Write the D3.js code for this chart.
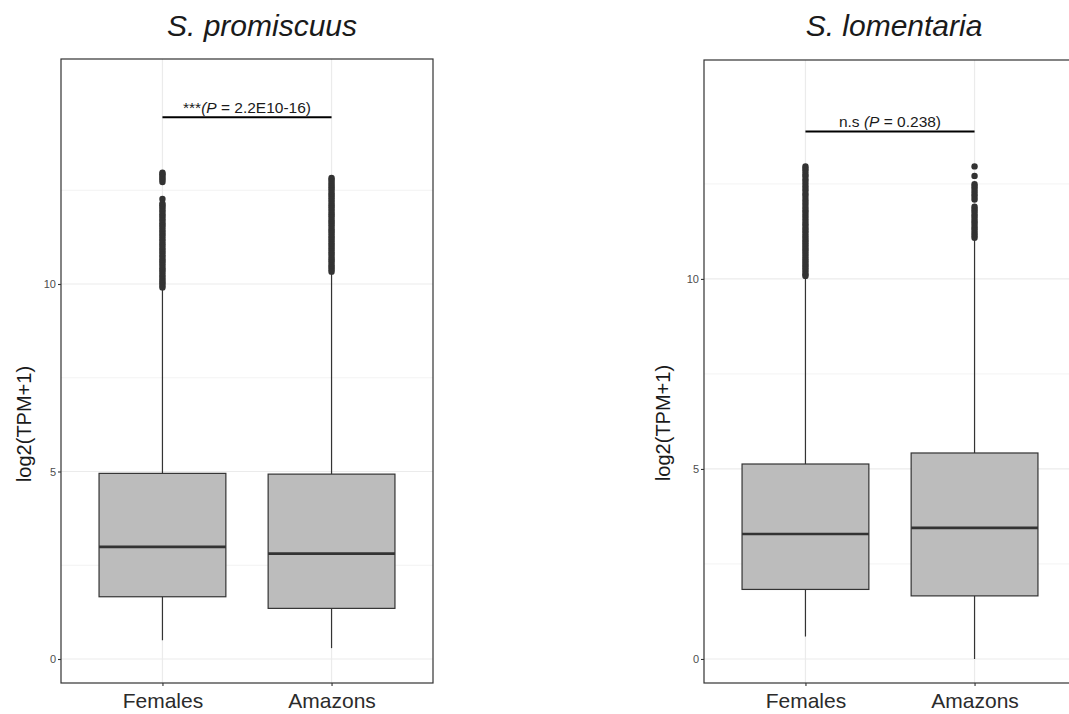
<!DOCTYPE html>
<html>
<head>
<meta charset="utf-8">
<script src="https://cdn.jsdelivr.net/npm/d3@7"></script>
<style>
  html, body { margin: 0; padding: 0; background: #ffffff; }
  svg { display: block; font-family: "Liberation Sans", Arial, sans-serif; }
</style>
</head>
<body>
<svg id="chart" width="1069" height="714"></svg>
<script>
// Expression of genes, log2(TPM+1), by caste, for two species
const categories = ["Females", "Amazons"];
const yTicks = [0, 5, 10];
const yMinorTicks = [2.5, 7.5, 12.5];

// S. promiscuus box statistics
const promWhiskerLow = [0.50, 0.29];
const promQ1 = [1.66, 1.35];
const promMedian = [2.99, 2.81];
const promQ3 = [4.95, 4.93];
const promWhiskerHigh = [9.89, 10.28];
const promOutliersFemales = [12.97, 12.93, 12.88, 12.83, 12.78, 12.72, 12.27, 12.15, 12.1, 12.05, 11.98, 11.93, 11.86, 11.81, 11.74, 11.69, 11.62, 11.57, 11.51, 11.44, 11.39, 11.33, 11.27, 11.2, 11.15, 11.08, 11.03, 10.96, 10.91, 10.85, 10.78, 10.73, 10.66, 10.61, 10.55, 10.49, 10.42, 10.37, 10.31, 10.24, 10.19, 10.13, 10.07, 10.02, 9.96, 9.91];
const promOutliersAmazons = [12.83, 12.78, 12.72, 12.66, 12.6, 12.55, 12.49, 12.42, 12.37, 12.31, 12.25, 12.19, 12.12, 12.07, 12.01, 11.95, 11.88, 11.83, 11.77, 11.7, 11.65, 11.59, 11.53, 11.46, 11.41, 11.35, 11.28, 11.23, 11.17, 11.1, 11.05, 10.99, 10.93, 10.86, 10.81, 10.75, 10.68, 10.63, 10.57, 10.5, 10.45, 10.39, 10.33];
const promLabel = { stars: "***", p: " = 2.2E10-16)", y: 14.45 };

// S. lomentaria box statistics
const lomWhiskerLow = [0.59, 0.0];
const lomQ1 = [1.83, 1.66];
const lomMedian = [3.29, 3.45];
const lomQ3 = [5.13, 5.42];
const lomWhiskerHigh = [10.07, 11.05];
const lomOutliersFemales = [12.96, 12.9, 12.84, 12.76, 12.7, 12.62, 12.55, 12.47, 12.4, 12.33, 12.25, 12.18, 12.1, 12.03, 11.96, 11.88, 11.81, 11.74, 11.67, 11.6, 11.53, 11.46, 11.4, 11.33, 11.27, 11.21, 11.14, 11.08, 11.02, 10.96, 10.9, 10.84, 10.78, 10.72, 10.66, 10.6, 10.54, 10.48, 10.42, 10.36, 10.3, 10.24, 10.18, 10.12, 10.08];
const lomOutliersAmazons = [12.96, 12.71, 12.49, 12.43, 12.37, 12.3, 12.23, 12.16, 12.09, 11.9, 11.84, 11.78, 11.71, 11.65, 11.58, 11.52, 11.46, 11.39, 11.33, 11.27, 11.2, 11.14, 11.08];
const lomLabel = { stars: "n.s ", p: " = 0.238)", y: 13.88 };

const svg = d3.select("#chart");

function drawPanel(cfg) {
  const x = d3.scalePoint().domain(categories).range([cfg.left, cfg.right]).padding(0.6);
  const y = d3.scaleLinear().domain(cfg.yDomain).range([cfg.bottom, cfg.top]);
  const boxW = x.step() * 0.75;
  const g = svg.append("g");

  // grid
  g.selectAll("line.minor").data(yMinorTicks).join("line")
    .attr("x1", cfg.left).attr("x2", cfg.right)
    .attr("y1", d => y(d)).attr("y2", d => y(d))
    .attr("stroke", "#f0f0f0").attr("stroke-width", 0.8);
  g.selectAll("line.majorY").data(yTicks).join("line")
    .attr("x1", cfg.left).attr("x2", cfg.right)
    .attr("y1", d => y(d)).attr("y2", d => y(d))
    .attr("stroke", "#ebebeb").attr("stroke-width", 1.2);
  g.selectAll("line.majorX").data(categories).join("line")
    .attr("x1", d => x(d)).attr("x2", d => x(d))
    .attr("y1", cfg.top).attr("y2", cfg.bottom)
    .attr("stroke", "#ebebeb").attr("stroke-width", 1.2);

  const stats = categories.map((c, i) => ({
    c, lo: cfg.wl[i], q1: cfg.q1[i], med: cfg.med[i], q3: cfg.q3[i], hi: cfg.wh[i], out: cfg.out[i]
  }));

  // whiskers
  stats.forEach(s => {
    g.append("line").attr("x1", x(s.c)).attr("x2", x(s.c))
      .attr("y1", y(s.lo)).attr("y2", y(s.q1))
      .attr("stroke", "#333333").attr("stroke-width", 1.2);
    g.append("line").attr("x1", x(s.c)).attr("x2", x(s.c))
      .attr("y1", y(s.q3)).attr("y2", y(s.hi))
      .attr("stroke", "#333333").attr("stroke-width", 1.2);
  });

  // boxes
  g.selectAll("rect.box").data(stats).join("rect")
    .attr("x", d => x(d.c) - boxW / 2).attr("width", boxW)
    .attr("y", d => y(d.q3)).attr("height", d => y(d.q1) - y(d.q3))
    .attr("fill", "#bcbcbc").attr("stroke", "#333333").attr("stroke-width", 1.2);
  g.selectAll("line.med").data(stats).join("line")
    .attr("x1", d => x(d.c) - boxW / 2).attr("x2", d => x(d.c) + boxW / 2)
    .attr("y1", d => y(d.med)).attr("y2", d => y(d.med))
    .attr("stroke", "#333333").attr("stroke-width", 2.6);

  // outliers
  stats.forEach(s => {
    g.selectAll(null).data(s.out).join("circle")
      .attr("cx", x(s.c)).attr("cy", d => y(d)).attr("r", 3.2)
      .attr("fill", "#333333");
  });

  // significance bracket
  const cats = categories;
  g.append("line").attr("x1", x(cats[0])).attr("x2", x(cats[1]))
    .attr("y1", y(cfg.label.y)).attr("y2", y(cfg.label.y))
    .attr("stroke", "#000000").attr("stroke-width", 2);
  const t = g.append("text")
    .attr("x", (x(cats[0]) + x(cats[1])) / 2).attr("y", y(cfg.label.y) - 4.5)
    .attr("text-anchor", "middle").attr("font-size", 15.5).attr("fill", "#1a1a1a");
  t.append("tspan").text(cfg.label.stars);
  t.append("tspan").attr("font-style", "italic").text("(P");
  t.append("tspan").text(cfg.label.p);

  // y axis
  const ya = g.append("g").attr("transform", `translate(${cfg.left},0)`)
    .call(d3.axisLeft(y).tickValues(yTicks).tickSize(3).tickPadding(2).tickFormat(d3.format("d")));
  ya.select(".domain").remove();
  ya.selectAll(".tick line").attr("stroke", "#333333").attr("stroke-width", 1.1);
  ya.selectAll(".tick text").attr("font-size", 11).attr("fill", "#4d4d4d")
    .attr("font-family", "Liberation Sans, Arial, sans-serif");

  // x axis
  const xa = g.append("g").attr("transform", `translate(0,${cfg.bottom})`)
    .call(d3.axisBottom(x).tickSize(3));
  xa.select(".domain").remove();
  xa.selectAll(".tick line").attr("stroke", "#333333").attr("stroke-width", 1.1);
  xa.selectAll(".tick text").attr("font-size", 21).attr("fill", "#2b2b2b")
    .attr("y", 25).attr("dy", 0)
    .attr("font-family", "Liberation Sans, Arial, sans-serif");

  // panel border
  g.append("rect").attr("x", cfg.left).attr("y", cfg.top)
    .attr("width", cfg.right - cfg.left).attr("height", cfg.bottom - cfg.top)
    .attr("fill", "none").attr("stroke", "#333333").attr("stroke-width", 1.2);

  // y label
  g.append("text")
    .attr("transform", `translate(${cfg.yLabelX},${cfg.yLabelY}) rotate(-90)`)
    .attr("text-anchor", "middle").attr("dominant-baseline", "central")
    .attr("font-size", 20).attr("fill", "#1a1a1a").text("log2(TPM+1)");

  // title
  g.append("text").attr("x", cfg.titleX).attr("y", 36)
    .attr("text-anchor", "middle").attr("font-size", 30).attr("font-style", "italic")
    .attr("fill", "#1a1a1a").text(cfg.title);
}

drawPanel({
  title: "S. promiscuus", titleX: 262,
  left: 61, right: 433, top: 59, bottom: 683, yDomain: [-0.64, 16.0],
  yLabelX: 24, yLabelY: 424,
  wl: promWhiskerLow, q1: promQ1, med: promMedian, q3: promQ3, wh: promWhiskerHigh,
  out: [promOutliersFemales, promOutliersAmazons], label: promLabel
});

drawPanel({
  title: "S. lomentaria", titleX: 894,
  left: 704, right: 1076, top: 60, bottom: 683, yDomain: [-0.632, 15.76],
  yLabelX: 663, yLabelY: 423,
  wl: lomWhiskerLow, q1: lomQ1, med: lomMedian, q3: lomQ3, wh: lomWhiskerHigh,
  out: [lomOutliersFemales, lomOutliersAmazons], label: lomLabel
});
</script>
</body>
</html>
